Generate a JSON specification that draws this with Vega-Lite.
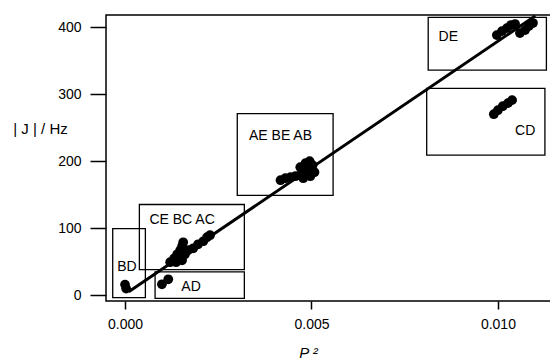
{
  "$schema": "https://vega.github.io/schema/vega-lite/v6.json",
  "autosize": {"type": "none"},
  "padding": {"left": 106, "top": 15, "right": 0, "bottom": 61},
  "width": 446,
  "height": 286,
  "background": "white",
  "config": {
    "view": {"stroke": "black", "strokeWidth": 1.5},
    "font": "Liberation Sans",
    "axis": {
      "domain": false, "grid": false,
      "tickColor": "black", "tickWidth": 1.5,
      "labelColor": "black", "labelFont": "Liberation Sans", "labelFontSize": 14,
      "titleColor": "black", "titleFont": "Liberation Sans", "titleFontSize": 15, "titleFontWeight": "normal"
    }
  },
  "datasets": {
    "boxes": [
      {"group": "BD", "x1": -0.00033, "x2": 0.000546, "y1": -3.4, "y2": 99.5},
      {"group": "CE BC AC", "x1": 0.000385, "x2": 0.0032, "y1": 38.4, "y2": 135.4},
      {"group": "AD", "x1": 0.000806, "x2": 0.0032, "y1": -4.5, "y2": 34.8},
      {"group": "AE BE AB", "x1": 0.00301, "x2": 0.00558, "y1": 149, "y2": 271},
      {"group": "DE", "x1": 0.00813, "x2": 0.0113, "y1": 335.8, "y2": 414.5},
      {"group": "CD", "x1": 0.00809, "x2": 0.01126, "y1": 209, "y2": 308.5}
    ],
    "labels": [
      {"text": "BD", "x": 0.00005, "y": 42},
      {"text": "CE BC AC", "x": 0.00153, "y": 113},
      {"text": "AD", "x": 0.00177, "y": 12.4},
      {"text": "AE BE AB", "x": 0.00417, "y": 237},
      {"text": "DE", "x": 0.00867, "y": 385.5},
      {"text": "CD", "x": 0.01073, "y": 244.8}
    ],
    "fit": [
      {"x": 0.0001, "y": 5.4},
      {"x": 0.011, "y": 416.7}
    ],
    "points": [
      {"x": 0.0, "y": 16}, {"x": 0.00003, "y": 10},
      {"x": 0.00099, "y": 16.4}, {"x": 0.00116, "y": 23.9},
      {"x": 0.00121, "y": 49.3}, {"x": 0.00132, "y": 55.2}, {"x": 0.0014, "y": 61.2},
      {"x": 0.00148, "y": 67.2}, {"x": 0.00153, "y": 73.1}, {"x": 0.00156, "y": 79.1},
      {"x": 0.00142, "y": 59.7}, {"x": 0.00161, "y": 61.2}, {"x": 0.00169, "y": 67.2},
      {"x": 0.00183, "y": 70.1}, {"x": 0.00196, "y": 76.1}, {"x": 0.0021, "y": 80.6},
      {"x": 0.0022, "y": 86.6}, {"x": 0.00228, "y": 89.6}, {"x": 0.00137, "y": 49.3},
      {"x": 0.00153, "y": 52.2},
      {"x": 0.00417, "y": 171.6}, {"x": 0.0043, "y": 174.6}, {"x": 0.00444, "y": 176.1},
      {"x": 0.00457, "y": 177.6}, {"x": 0.0047, "y": 179.1}, {"x": 0.00481, "y": 186.6},
      {"x": 0.00484, "y": 197}, {"x": 0.00495, "y": 200}, {"x": 0.00503, "y": 194},
      {"x": 0.00508, "y": 183.6}, {"x": 0.00497, "y": 177.6}, {"x": 0.00478, "y": 174.6},
      {"x": 0.00489, "y": 189.6}, {"x": 0.0047, "y": 191},
      {"x": 0.00997, "y": 388}, {"x": 0.01011, "y": 394}, {"x": 0.01024, "y": 398.5},
      {"x": 0.01035, "y": 403}, {"x": 0.01046, "y": 404.5}, {"x": 0.01059, "y": 391},
      {"x": 0.01073, "y": 395.5}, {"x": 0.01083, "y": 401.5}, {"x": 0.01094, "y": 406},
      {"x": 0.00989, "y": 270}, {"x": 0.01, "y": 276}, {"x": 0.01013, "y": 282},
      {"x": 0.01027, "y": 286.6}, {"x": 0.01038, "y": 291}
    ]
  },
  "layer": [
    {
      "data": {"name": "boxes"},
      "mark": {"type": "rect", "fill": null, "fillOpacity": 0, "stroke": "black", "strokeWidth": 1.3},
      "encoding": {
        "x": {"field": "x1", "type": "quantitative",
              "scale": {"domain": [-0.00051, 0.01145], "nice": false, "zero": false},
              "axis": {"values": [0, 0.005, 0.01], "format": ".3f", "tickSize": 8, "labelPadding": 8,
                       "title": "P ²", "titleFontStyle": "italic", "titleX": 202, "titleY": 51,
                       "titleBaseline": "middle", "titleAlign": "center"}},
        "x2": {"field": "x2"},
        "y": {"field": "y1", "type": "quantitative",
              "scale": {"domain": [-8.5, 418], "nice": false, "zero": false},
              "axis": {"values": [0, 100, 200, 300, 400], "tickSize": 16, "labelPadding": 9,
                       "title": "| J | / Hz", "titleAngle": 0, "titleX": -66, "titleY": 113,
                       "titleAlign": "center", "titleBaseline": "middle"}},
        "y2": {"field": "y2"}
      }
    },
    {
      "data": {"name": "fit"},
      "mark": {"type": "line", "color": "black", "strokeWidth": 3},
      "encoding": {
        "x": {"field": "x", "type": "quantitative"},
        "y": {"field": "y", "type": "quantitative"}
      }
    },
    {
      "data": {"name": "points"},
      "mark": {"type": "point", "shape": "circle", "filled": true, "color": "black", "opacity": 1, "size": 95},
      "encoding": {
        "x": {"field": "x", "type": "quantitative"},
        "y": {"field": "y", "type": "quantitative"}
      }
    },
    {
      "data": {"name": "labels"},
      "mark": {"type": "text", "color": "black", "fontSize": 14, "font": "Liberation Sans", "align": "center", "baseline": "middle"},
      "encoding": {
        "x": {"field": "x", "type": "quantitative"},
        "y": {"field": "y", "type": "quantitative"},
        "text": {"field": "text"}
      }
    }
  ]
}
